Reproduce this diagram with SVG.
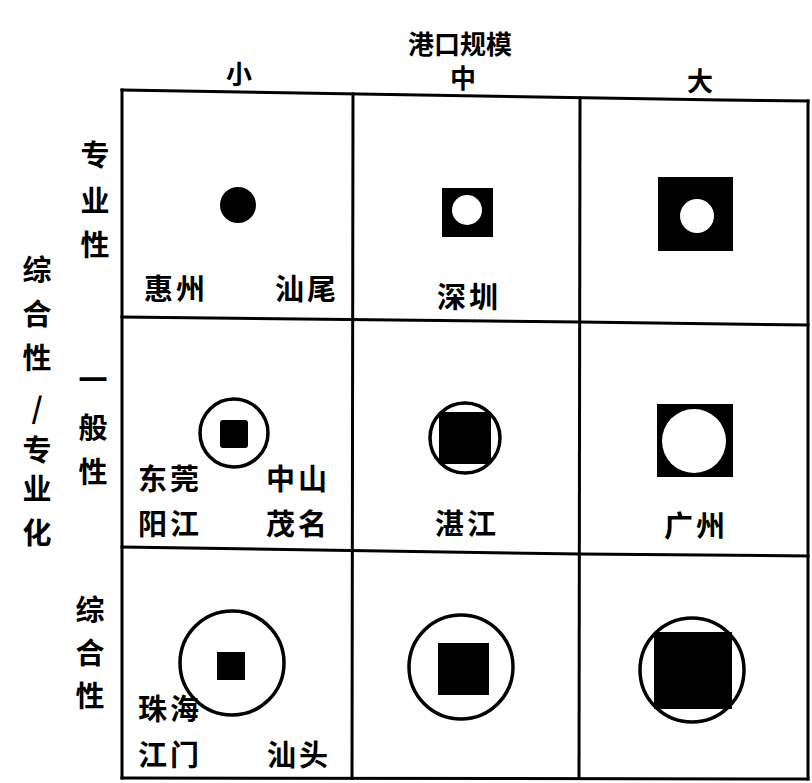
<svg xmlns="http://www.w3.org/2000/svg" width="812" height="783" viewBox="0 0 812 783">
<style>
  .t{font-family:"Noto Sans CJK SC","Noto Sans CJK TC",sans-serif;font-weight:bold;fill:#000;text-anchor:middle}
  .city{font-size:29px;letter-spacing:3px}
  .hdr{font-size:26px}
  .row{font-size:29px}
  .grid{stroke:#000;stroke-width:3;fill:none;stroke-linecap:square}
  .ring{stroke:#000;stroke-width:3.5;fill:none}
  .blk{fill:#000}
  .hole{fill:#fff}
</style>
<rect width="812" height="783" fill="#fff"/>

<g id="title">
  <text class="t hdr" x="460" y="54" font-size="28">港口规模</text>
  <text class="t hdr" x="239" y="84">小</text>
  <text class="t hdr" x="463" y="88">中</text>
  <text class="t hdr" x="700" y="91">大</text>
</g>

<g id="axis-left">
  <text class="t row" x="37" y="281">综</text>
  <text class="t row" x="37" y="325">合</text>
  <text class="t row" x="37" y="369">性</text>
  <text class="t row" x="37" y="419">/</text>
  <text class="t row" x="37" y="461">专</text>
  <text class="t row" x="37" y="500">业</text>
  <text class="t row" x="37" y="544">化</text>
</g>

<g id="row-labels">
  <text class="t row" x="95" y="166">专</text>
  <text class="t row" x="95" y="212">业</text>
  <text class="t row" x="95" y="256">性</text>
  <text class="t row" x="93" y="391">一</text>
  <text class="t row" x="93" y="439">般</text>
  <text class="t row" x="93" y="483">性</text>
  <text class="t row" x="90" y="621">综</text>
  <text class="t row" x="90" y="664">合</text>
  <text class="t row" x="90" y="707">性</text>
</g>

<g id="grid">
  <path class="grid" d="M122,90 L722,100 M724,100 L808,101"/>
  <path class="grid" d="M122,317 L580,322 L808,325"/>
  <path class="grid" d="M122,547 L580,554 L808,556"/>
  <path class="grid" d="M122,778 L808,779"/>
  <path class="grid" d="M122,90 L122,778"/>
  <path class="grid" d="M353,94 L352,778"/>
  <path class="grid" d="M580,98 L579,778"/>
  <path class="grid" d="M808,101 L808,779"/>
</g>

<g id="cell-small-special">
  <circle class="blk" cx="238" cy="205" r="18"/>
  <text class="t city" x="176" y="300">惠州</text>
  <text class="t city" x="307" y="300">汕尾</text>
</g>
<g id="cell-mid-special">
  <rect class="blk" x="442" y="188" width="51" height="49"/>
  <circle class="hole" cx="467" cy="210" r="15"/>
  <text class="t city" x="469" y="308">深圳</text>
</g>
<g id="cell-large-special">
  <rect class="blk" x="658" y="177" width="75" height="74"/>
  <circle class="hole" cx="697" cy="216" r="17"/>
</g>

<g id="cell-small-general">
  <circle class="ring" cx="234" cy="433" r="34"/>
  <rect class="blk" x="220" y="420" width="28" height="28" rx="3"/>
  <text class="t city" x="170" y="490">东莞</text>
  <text class="t city" x="170" y="535">阳江</text>
  <text class="t city" x="298" y="490">中山</text>
  <text class="t city" x="298" y="535">茂名</text>
</g>
<g id="cell-mid-general">
  <circle class="ring" cx="465" cy="438" r="35"/>
  <rect class="blk" x="439" y="412" width="52" height="52"/>
  <text class="t city" x="467" y="535">湛江</text>
</g>
<g id="cell-large-general">
  <rect class="blk" x="657" y="404" width="76" height="73"/>
  <circle class="hole" cx="694" cy="441" r="32"/>
  <text class="t city" x="696" y="537">广州</text>
</g>

<g id="cell-small-comprehensive">
  <circle class="ring" cx="232" cy="663" r="52"/>
  <rect class="blk" x="217" y="652" width="28" height="28"/>
  <text class="t city" x="170" y="720">珠海</text>
  <text class="t city" x="170" y="766">江门</text>
  <text class="t city" x="299" y="766">汕头</text>
</g>
<g id="cell-mid-comprehensive">
  <circle class="ring" cx="461" cy="667" r="52"/>
  <rect class="blk" x="438" y="643" width="51" height="52"/>
</g>
<g id="cell-large-comprehensive">
  <circle class="ring" cx="692" cy="670" r="52"/>
  <rect class="blk" x="654" y="632" width="78" height="77"/>
</g>
</svg>
